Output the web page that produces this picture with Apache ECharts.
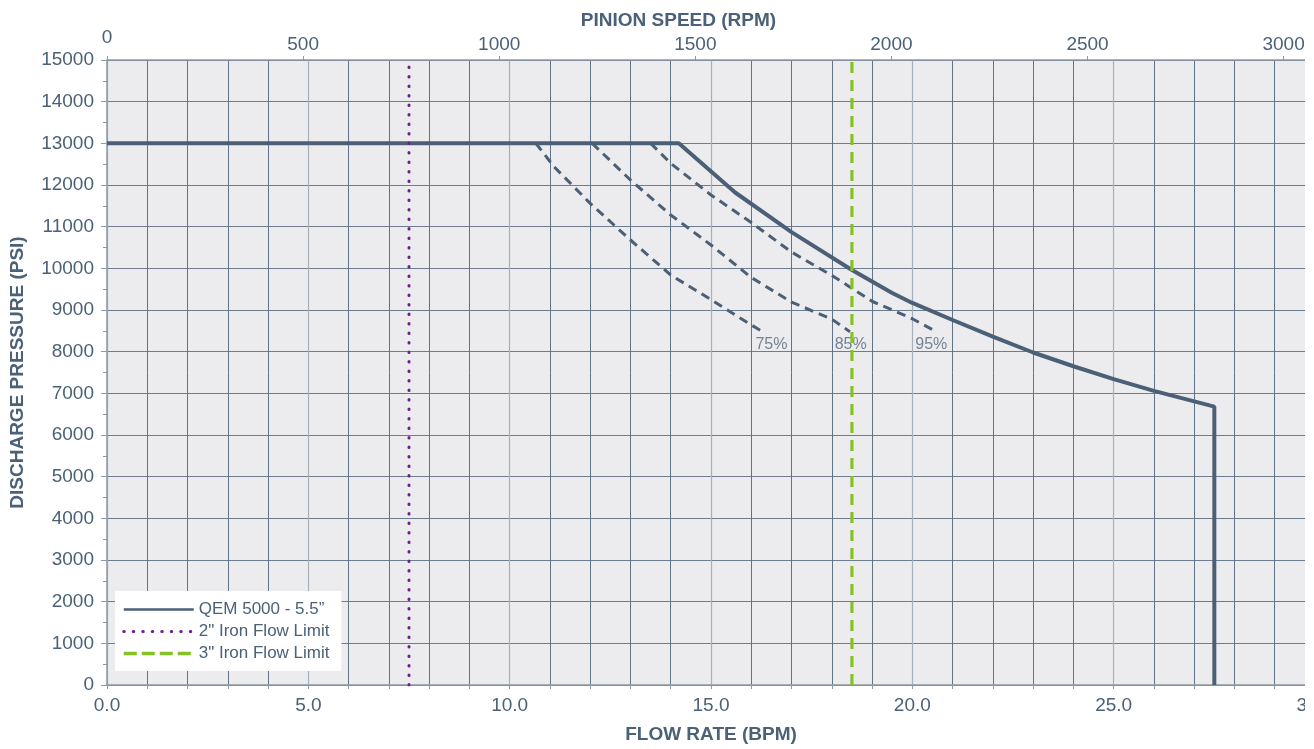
<!DOCTYPE html>
<html>
<head>
<meta charset="utf-8">
<script src="https://cdn.jsdelivr.net/npm/echarts@6/dist/echarts.min.js"></script>
<style>
  html, body { margin: 0; padding: 0; background: #fff; }
  #chart { width: 1314px; height: 749px; }
</style>
</head>
<body>
<div id="chart"></div>
<script>
// pump curve, flow (BPM) vs discharge pressure (PSI)
const qemCurve = [
  [0, 13000], [14.2, 13000], [15.6, 11820], [17.0, 10870], [18.5, 9960],
  [19.5, 9410], [20.0, 9170], [21.0, 8760], [22.0, 8360], [23.0, 7980],
  [24.0, 7650], [25.0, 7340], [26.0, 7060], [27.5, 6680], [27.5, 0]
];

// efficiency curves
const eff75 = [[10.65, 13000], [11.1, 12440], [12.0, 11560], [13.0, 10680], [14.0, 9840], [15.0, 9250], [16.0, 8640], [16.3, 8470]];
const eff85 = [[12.05, 13000], [13.0, 12120], [14.0, 11280], [15.0, 10560], [16.0, 9780], [17.0, 9190], [18.0, 8780], [18.45, 8480]];
const eff95 = [[13.5, 13000], [14.0, 12520], [15.0, 11760], [16.0, 11100], [17.0, 10390], [18.0, 9830], [19.0, 9210], [20.0, 8790], [20.6, 8480]];

const effNames = ['75%', '85%', '95%'];
const effLabelFlow = [16.5, 18.47, 20.47];
const effLabelPsi = 8180;

// iron flow limits (BPM)
const iron2Limit = 7.5;
const iron3Limit = 18.5;

const flowMax = 30;
const rpmMax = 3080;
const psiMax = 15000;

const FONT = '"Liberation Sans", Arial, sans-serif';
const TXT = '#4a6178';
const LINE = '#4b6076';
const PURPLE = '#6d1f8c';
const GREEN = '#84c225';

const chart = echarts.init(document.getElementById('chart'));

function effSeries(data) {
  return {
    type: 'line', xAxisIndex: 0, data: data, symbol: 'none',
    lineStyle: { color: LINE, width: 3, type: [9, 6] },
    silent: true, z: 3
  };
}

// hide the legend marker dot, keep only the line sample
const noDot = { color: 'rgba(0,0,0,0)', borderWidth: 0, opacity: 0 };

const option = {
  animation: false,
  backgroundColor: '#fff',
  grid: {
    left: 107, right: -1, top: 60, bottom: 64,
    outerBoundsMode: 'none', containLabel: false,
    show: true, backgroundColor: '#ececef', borderWidth: 0
  },
  legend: {
    orient: 'vertical', left: 115, top: 591,
    padding: [10, 12, 9, 7],
    backgroundColor: '#fff',
    itemWidth: 70, itemHeight: 16, itemGap: 5,
    itemStyle: noDot,
    textStyle: { color: TXT, fontSize: 17, fontFamily: FONT },
    data: [
      { name: 'QEM 5000 - 5.5\u201d', lineStyle: { color: LINE, width: 2.5 }, itemStyle: noDot },
      { name: '2" Iron Flow Limit', lineStyle: { color: PURPLE, width: 3, type: [0.5, 9], cap: 'round' }, itemStyle: noDot },
      { name: '3" Iron Flow Limit', lineStyle: { color: GREEN, width: 3.5, type: [13, 5] }, itemStyle: noDot }
    ]
  },
  xAxis: [
    {
      type: 'value', position: 'bottom', min: 0, max: flowMax, interval: 5,
      name: 'FLOW RATE (BPM)', nameLocation: 'middle', nameGap: 40,
      nameTextStyle: { color: TXT, fontSize: 19, fontWeight: 'bold', fontFamily: FONT },
      axisLine: { show: true, lineStyle: { color: '#8e9aa6', width: 1.5 } },
      axisTick: { show: true, length: 4, lineStyle: { color: '#8e9aa6' } },
      minorTick: { show: true, splitNumber: 5, length: 4, lineStyle: { color: '#8e9aa6' } },
      axisLabel: {
        color: TXT, fontSize: 19, fontFamily: FONT, margin: 11,
        formatter: (v) => v.toFixed(1)
      },
      splitLine: { show: true, lineStyle: { color: '#a7b1bb', width: 1.2 } },
      minorSplitLine: { show: true, lineStyle: { color: '#5f7286', width: 1 } }
    },
    {
      type: 'value', position: 'top', min: 0, max: rpmMax, interval: 500,
      name: 'PINION SPEED (RPM)', nameLocation: 'middle', nameGap: 30, nameMoveOverlap: false,
      nameTextStyle: { color: TXT, fontSize: 19, fontWeight: 'bold', fontFamily: FONT, padding: [0, 65, 0, 0] },
      axisLine: { show: true, lineStyle: { color: '#8e9aa6', width: 1.5 } },
      axisTick: { show: true, length: 4, lineStyle: { color: '#8e9aa6' } },
      axisLabel: {
        color: TXT, fontSize: 19, fontFamily: FONT, margin: 6, showMaxLabel: false,
        formatter: (v) => (v === 0 ? '{z|0}' : String(v)),
        rich: { z: { color: TXT, fontSize: 19, fontFamily: FONT, padding: [0, 0, 7, 0] } }
      },
      splitLine: { show: false }
    }
  ],
  yAxis: {
    type: 'value', min: 0, max: psiMax, interval: 1000,
    name: 'DISCHARGE PRESSURE (PSI)', nameLocation: 'middle', nameGap: 80,
    nameTextStyle: { color: TXT, fontSize: 19, fontWeight: 'bold', fontFamily: FONT },
    axisLine: { show: true, lineStyle: { color: '#8e9aa6', width: 1.5 } },
    axisTick: { show: true, length: 6, lineStyle: { color: '#8e9aa6' } },
    minorTick: { show: true, splitNumber: 2, length: 4, lineStyle: { color: '#8e9aa6' } },
    axisLabel: { color: TXT, fontSize: 19, fontFamily: FONT, margin: 13, formatter: (v) => String(v) },
    splitLine: { show: true, lineStyle: { color: '#6b7d8f', width: 1 } }
  },
  graphic: [
    // right edge of the original picture is cut off
    { type: 'rect', right: 0, top: 0, shape: { width: 9, height: 749 }, style: { fill: '#fff' }, z: 100 }
  ],
  series: [
    effSeries(eff75),
    effSeries(eff85),
    effSeries(eff95),
    {
      type: 'scatter', xAxisIndex: 0, symbolSize: 0, silent: true,
      data: effNames.map((n, i) => ({ name: n, value: [effLabelFlow[i], effLabelPsi] })),
      label: {
        show: true, position: 'inside', formatter: (p) => p.name,
        color: '#55687c', fontSize: 16, fontFamily: FONT
      }
    },
    {
      name: 'QEM 5000 - 5.5\u201d', type: 'line', xAxisIndex: 0, data: qemCurve, symbol: 'none',
      lineStyle: { color: LINE, width: 4 }, itemStyle: { color: LINE }, z: 4
    },
    {
      name: '2" Iron Flow Limit', type: 'line', xAxisIndex: 0, symbol: 'none',
      data: [[iron2Limit, 0], [iron2Limit, psiMax]],
      lineStyle: { color: PURPLE, width: 3, type: [0.5, 9], cap: 'round' },
      itemStyle: { color: PURPLE }, z: 5
    },
    {
      name: '3" Iron Flow Limit', type: 'line', xAxisIndex: 0, symbol: 'none',
      data: [[iron3Limit, 0], [iron3Limit, psiMax]],
      lineStyle: { color: GREEN, width: 3.2, type: [11, 7] },
      itemStyle: { color: GREEN }, z: 5
    }
  ]
};

chart.setOption(option);
</script>
</body>
</html>
